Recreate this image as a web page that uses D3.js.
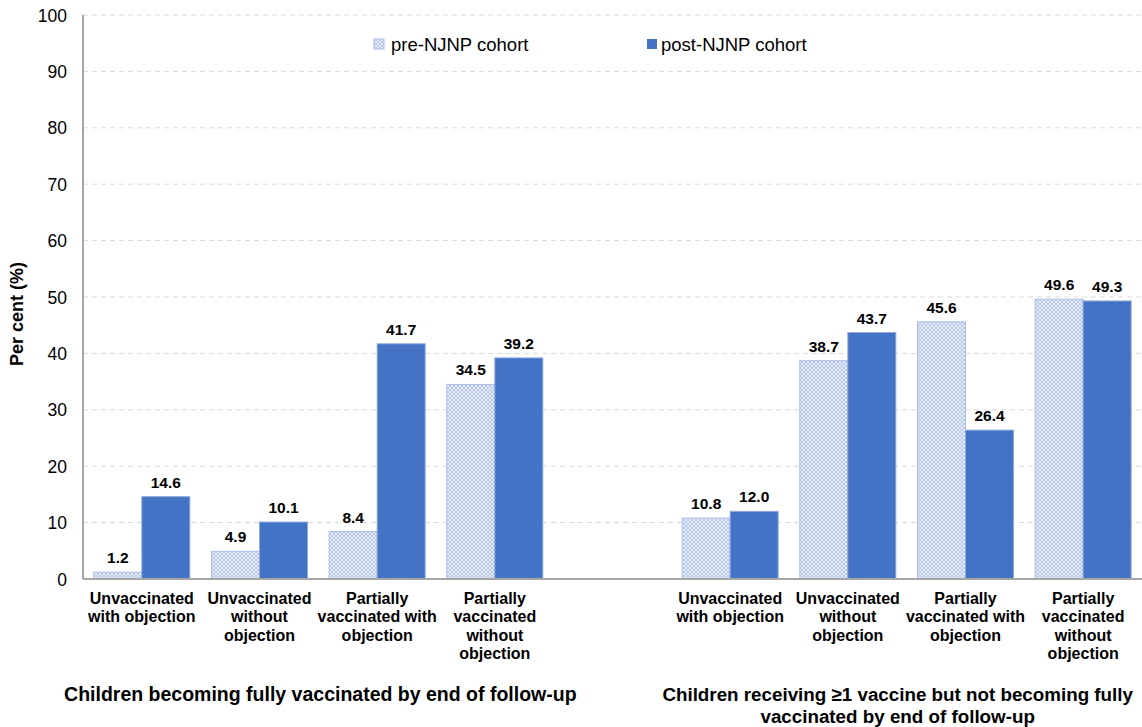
<!DOCTYPE html>
<html><head><meta charset="utf-8">
<script src="https://cdn.jsdelivr.net/npm/d3@7"></script>
<style>body{margin:0;background:#fff;font-family:Arial,"Liberation Sans",sans-serif;}</style>
</head><body><svg id="c" width="1142" height="727"></svg>
<script>
const categories = [
  ["Unvaccinated","with objection"],
  ["Unvaccinated","without","objection"],
  ["Partially","vaccinated with","objection"],
  ["Partially","vaccinated","without","objection"],
  null,
  ["Unvaccinated","with objection"],
  ["Unvaccinated","without","objection"],
  ["Partially","vaccinated with","objection"],
  ["Partially","vaccinated","without","objection"]
];
const preValues  = [1.2, 4.9, 8.4, 34.5, null, 10.8, 38.7, 45.6, 49.6];
const postValues = [14.6, 10.1, 41.7, 39.2, null, 12.0, 43.7, 26.4, 49.3];
const seriesNames = ["pre-NJNP cohort", "post-NJNP cohort"];
const yTicks = [0,10,20,30,40,50,60,70,80,90,100];
const groupLabels = [
  {slots:[0,3], lines:["Children becoming fully vaccinated by end of follow-up"]},
  {slots:[5,8], lines:["Children receiving \u22651 vaccine but not becoming fully","vaccinated by end of follow-up"]}
];

(function(){
const svg = d3.select("#c");
const pL = 83, pR = 1142, pT = 15, pB = 579;
const x = d3.scaleBand().domain(d3.range(categories.length)).range([pL, pR]).paddingInner(0).paddingOuter(0);
const y = d3.scaleLinear().domain([0,100]).range([pB, pT]);
const bw = 48, pad = (x.bandwidth() - 2*bw)/2;

const defs = svg.append("defs");
const pat = defs.append("pattern").attr("id","hatch").attr("patternUnits","userSpaceOnUse").attr("width",4).attr("height",4);
pat.append("rect").attr("width",4).attr("height",4).attr("fill","#e8eef9");
pat.append("path").attr("d","M0,0L4,4M4,0L0,4").attr("stroke","#b0c3ea").attr("stroke-width",0.9);

svg.append("g").selectAll("line").data(yTicks.filter(d=>d>0)).join("line")
  .attr("x1",pL).attr("x2",pR).attr("y1",d=>y(d)).attr("y2",d=>y(d))
  .attr("stroke","#d9d9d9").attr("stroke-width",1).attr("stroke-dasharray","5,4");

svg.append("g").selectAll("text").data(yTicks).join("text")
  .attr("x",67).attr("y",d=>y(d)+6.5).attr("text-anchor","end")
  .attr("font-size",17.5).attr("fill","#000").text(d=>d);

svg.append("text").attr("transform",`translate(23,${y(50)+17}) rotate(-90)`)
  .attr("text-anchor","middle").attr("font-size",18).attr("font-weight","bold").text("Per cent (%)");

const idx = d3.range(categories.length).filter(i=>categories[i]);
const g = svg.append("g");
g.selectAll(".pre").data(idx).join("rect").attr("class","pre")
  .attr("x",i=>x(i)+pad).attr("width",bw)
  .attr("y",i=>y(preValues[i])).attr("height",i=>y(0)-y(preValues[i]))
  .attr("fill","url(#hatch)").attr("stroke","#a8bde8").attr("stroke-width",1);
g.selectAll(".post").data(idx).join("rect").attr("class","post")
  .attr("x",i=>x(i)+pad+bw).attr("width",bw)
  .attr("y",i=>y(postValues[i])).attr("height",i=>y(0)-y(postValues[i]))
  .attr("fill","#4472c4").attr("stroke","#8faadc").attr("stroke-width",1);

g.selectAll(".lp").data(idx).join("text")
  .attr("x",i=>x(i)+pad+bw/2).attr("y",i=>y(preValues[i])-9)
  .attr("text-anchor","middle").attr("font-size",15.5).attr("font-weight","bold").text(i=>preValues[i].toFixed(1));
g.selectAll(".lq").data(idx).join("text")
  .attr("x",i=>x(i)+pad+bw*1.5).attr("y",i=>y(postValues[i])-9)
  .attr("text-anchor","middle").attr("font-size",15.5).attr("font-weight","bold").text(i=>postValues[i].toFixed(1));

svg.append("line").attr("x1",pL).attr("x2",pL).attr("y1",pT).attr("y2",pB).attr("stroke","#a6a6a6").attr("stroke-width",2);
svg.append("line").attr("x1",pL).attr("x2",pR).attr("y1",pB).attr("y2",pB).attr("stroke","#a6a6a6").attr("stroke-width",2);

idx.forEach(i=>{
  const t = svg.append("text").attr("text-anchor","middle").attr("font-size",16).attr("font-weight","bold");
  categories[i].forEach((ln,k)=>{
    t.append("tspan").attr("x",x(i)+x.bandwidth()/2).attr("y",604+k*18.3).text(ln);
  });
});

const groupShift = [2, -9];
groupLabels.forEach((gl,j)=>{
  const cx = (x(gl.slots[0]) + x(gl.slots[1]) + x.bandwidth())/2 + groupShift[j];
  const t = svg.append("text").attr("text-anchor","middle").attr("font-size",j===0?19.5:18.8).attr("font-weight","bold");
  gl.lines.forEach((ln,k)=> t.append("tspan").attr("x",cx).attr("y",701+k*22).text(ln));
});

const lg = svg.append("g");
lg.append("rect").attr("x",374).attr("y",39).attr("width",10).attr("height",10).attr("fill","url(#hatch)").attr("stroke","#a8bde8");
lg.append("text").attr("x",391).attr("y",51).attr("font-size",18.5).text(seriesNames[0]);
lg.append("rect").attr("x",647).attr("y",39).attr("width",10).attr("height",10).attr("fill","#4472c4");
lg.append("text").attr("x",661).attr("y",51).attr("font-size",18.5).text(seriesNames[1]);
})();
</script></body></html>
